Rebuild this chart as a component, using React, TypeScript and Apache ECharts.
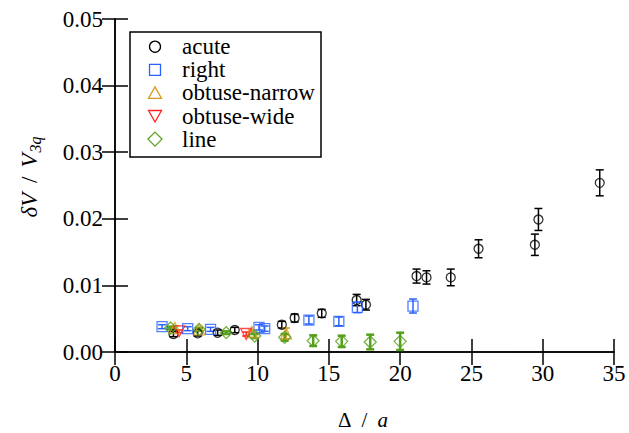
import React, { useEffect, useRef } from "react";
import * as echarts from "echarts";

const SERIF = "Liberation Serif";

const acuteX = [4.1, 5.8, 7.2, 8.4, 11.7, 12.6, 14.5, 16.95, 17.6, 21.15, 21.85, 23.55, 25.5, 29.45, 29.7, 34.0];
const acuteY = [0.0027, 0.0028, 0.0029, 0.0033, 0.0041, 0.0051, 0.0058, 0.0078, 0.0071, 0.0114, 0.0112, 0.0112, 0.0155, 0.0161, 0.0199, 0.0254];
const acuteErr = [0.0004, 0.0004, 0.0004, 0.0004, 0.0005, 0.0006, 0.0006, 0.00085, 0.0008, 0.00105, 0.001, 0.00125, 0.00135, 0.0016, 0.00165, 0.00195];

const rightX = [3.3, 5.1, 6.7, 10.1, 10.5, 13.6, 15.7, 17.0, 20.9];
const rightY = [0.0038, 0.0035, 0.0034, 0.0037, 0.0035, 0.0048, 0.0046, 0.0067, 0.0069];
const rightErr = [0.0003, 0.0003, 0.0003, 0.0004, 0.0004, 0.0006, 0.00065, 0.0008, 0.00105];

const narrowX = [4.2, 5.9, 9.6, 12.0];
const narrowY = [0.0036, 0.0034, 0.003, 0.0028];
const narrowErr = [0.0003, 0.0003, 0.0003, 0.0008];

const wideX = [4.5, 9.2];
const wideY = [0.0031, 0.0027];
const wideErr = [0.0002, 0.0003];

const lineX = [3.9, 5.9, 7.8, 9.8, 11.9, 13.9, 15.9, 17.9, 20.0];
const lineY = [0.0036, 0.0034, 0.0029, 0.0024, 0.0022, 0.0017, 0.0016, 0.0015, 0.0016];
const lineErr = [0.0002, 0.0002, 0.0002, 0.0003, 0.0005, 0.0008, 0.00085, 0.0011, 0.0013];

const xTickValues = [0, 5, 10, 15, 20, 25, 30, 35];
const xTickLabels = ["0", "5", "10", "15", "20", "25", "30", "35"];
const yTickValues = [0, 0.01, 0.02, 0.03, 0.04, 0.05];
const yTickLabels = ["0.00", "0.01", "0.02", "0.03", "0.04", "0.05"];

const xRange = { min: 0, max: 35, interval: 5 };
const yRange = { min: 0, max: 0.05, interval: 0.01 };

const groups = [
  { name: "acute", xs: acuteX, ys: acuteY, es: acuteErr, color: "#000000", symbol: "circle", size: 9, rotate: 0, lw: 1.5 },
  { name: "right", xs: rightX, ys: rightY, es: rightErr, color: "#2a62ff", symbol: "rect", size: 10, rotate: 0, lw: 1.5 },
  { name: "obtuse-narrow", xs: narrowX, ys: narrowY, es: narrowErr, color: "#d99a22", symbol: "triangle", size: 11, rotate: 0, lw: 1.5 },
  { name: "obtuse-wide", xs: wideX, ys: wideY, es: wideErr, color: "#ff2020", symbol: "triangle", size: 11, rotate: 180, lw: 1.5 },
  { name: "line", xs: lineX, ys: lineY, es: lineErr, color: "#55a01a", symbol: "diamond", size: 12, rotate: 0, lw: 2.5 },
];

function errRenderer(color: string, lw: number) {
  return (_params: any, api: any) => {
    const x = api.value(0);
    const y = api.value(1);
    const e = api.value(2);
    const top = api.coord([x, y + e]);
    const bot = api.coord([x, y - e]);
    const cap = 4;
    const style = { stroke: color, lineWidth: lw };
    return {
      type: "group",
      children: [
        { type: "line", shape: { x1: top[0], y1: top[1], x2: bot[0], y2: bot[1] }, style },
        { type: "line", shape: { x1: top[0] - cap, y1: top[1], x2: top[0] + cap, y2: top[1] }, style },
        { type: "line", shape: { x1: bot[0] - cap, y1: bot[1], x2: bot[0] + cap, y2: bot[1] }, style },
      ],
    };
  };
}

function legendIcon(symbol: string, rotate: number, cx: number, cy: number, color: string): any {
  const style = { fill: "none", stroke: color, lineWidth: 1.3 };
  if (symbol === "circle") return { type: "circle", shape: { cx, cy, r: 5.5 }, style };
  if (symbol === "rect") return { type: "rect", shape: { x: cx - 5.5, y: cy - 5.5, width: 11, height: 11 }, style };
  if (symbol === "diamond")
    return { type: "polygon", shape: { points: [[cx, cy - 7], [cx + 7, cy], [cx, cy + 7], [cx - 7, cy]] }, style };
  if (rotate === 180)
    return { type: "polygon", shape: { points: [[cx - 6.5, cy - 5.5], [cx + 6.5, cy - 5.5], [cx, cy + 6]] }, style };
  return { type: "polygon", shape: { points: [[cx - 6.5, cy + 5.5], [cx + 6.5, cy + 5.5], [cx, cy - 6]] }, style };
}

export default function App() {
  const ref = useRef<HTMLDivElement>(null);
  useEffect(() => {
    document.body.style.margin = "0";
    const chart = echarts.init(ref.current!, null, { renderer: "svg" });
    const axisLine = { show: true, lineStyle: { color: "#000", width: 1.5 } };
    const tick = { show: true, inside: true, length: 13, lineStyle: { color: "#000", width: 1.5 } };
    const series: any[] = [];
    groups.forEach((g) => {
      series.push({
        name: g.name + "-err",
        type: "custom",
        renderItem: errRenderer(g.color, g.lw),
        data: g.xs.map((x, i) => [x, g.ys[i], g.es[i]]),
        encode: { x: 0, y: 1 },
        z: 2,
        silent: true,
      });
    });
    groups.forEach((g) => {
      series.push({
        name: g.name,
        type: "scatter",
        symbol: g.symbol,
        symbolSize: g.size,
        symbolRotate: g.rotate,
        data: g.xs.map((x, i) => [x, g.ys[i]]),
        itemStyle: { color: "rgba(0,0,0,0)", borderColor: g.color, borderWidth: 1.3 },
        z: 3,
      });
    });
    chart.setOption({
      animation: false,
      grid: { left: 115, right: 15, top: 19, bottom: 81 },
      xAxis: [
        { type: "value", ...xRange, position: "bottom", axisLine, axisTick: tick, splitLine: { show: false }, axisLabel: { show: false } },
        { type: "value", ...xRange, position: "top", axisLine, axisTick: tick, splitLine: { show: false }, axisLabel: { show: false } },
      ],
      yAxis: [
        { type: "value", ...yRange, position: "left", axisLine, axisTick: tick, splitLine: { show: false }, axisLabel: { show: false } },
        { type: "value", ...yRange, position: "right", axisLine, axisTick: tick, splitLine: { show: false }, axisLabel: { show: false } },
      ],
      series,
    });

    const graphics: any[] = [];
    const tickFont = "23px " + SERIF;
    const x0 = chart.convertToPixel({ xAxisIndex: 0 }, 0) as number;
    const y0 = chart.convertToPixel({ yAxisIndex: 0 }, 0) as number;
    xTickValues.forEach((v, i) => {
      const px = chart.convertToPixel({ xAxisIndex: 0 }, v) as number;
      graphics.push({
        type: "text",
        x: px,
        y: y0 + 21,
        style: { text: xTickLabels[i], font: tickFont, fill: "#000", align: "center", verticalAlign: "middle" },
      });
    });
    yTickValues.forEach((v, i) => {
      const py = chart.convertToPixel({ yAxisIndex: 0 }, v) as number;
      graphics.push({
        type: "text",
        x: x0 - 12,
        y: py,
        style: { text: yTickLabels[i], font: tickFont, fill: "#000", align: "right", verticalAlign: "middle" },
      });
    });

    // x axis title: Δ / a
    const xnFont = "21px " + SERIF;
    const xnItal = "italic 21px " + SERIF;
    const xCenter = (x0 + (chart.convertToPixel({ xAxisIndex: 0 }, 35) as number)) / 2;
    const xnY = 420;
    graphics.push(
      { type: "text", x: xCenter - 13, y: xnY, style: { text: "Δ", font: xnFont, fill: "#000", align: "right", verticalAlign: "middle" } },
      { type: "text", x: xCenter, y: xnY, style: { text: "/", font: xnFont, fill: "#000", align: "center", verticalAlign: "middle" } },
      { type: "text", x: xCenter + 13, y: xnY, style: { text: "a", font: xnItal, fill: "#000", align: "left", verticalAlign: "middle" } }
    );

    // y axis title: δV / V_3q (rotated, reading upward)
    const mainI = "italic 23px " + SERIF;
    const mainN = "23px " + SERIF;
    const subI = "italic 16px " + SERIF;
    const w1 = 25.6;
    const w2 = 6.4;
    const w3 = 14.1;
    const w4 = 16;
    const gap = 9;
    const totalLen = w1 + w2 + w3 + w4 + 2 * gap;
    const startY = 177.5 + totalLen / 2;
    let off = 0;
    const kids: any[] = [];
    kids.push({ type: "text", x: off, y: 0, style: { text: "δV", font: mainI, fill: "#000", align: "left", verticalAlign: "middle" } });
    off += w1 + gap;
    kids.push({ type: "text", x: off, y: 0, style: { text: "/", font: mainN, fill: "#000", align: "left", verticalAlign: "middle" } });
    off += w2 + gap;
    kids.push({ type: "text", x: off, y: 0, style: { text: "V", font: mainI, fill: "#000", align: "left", verticalAlign: "middle" } });
    off += w3 + 1;
    kids.push({ type: "text", x: off, y: 6, style: { text: "3q", font: subI, fill: "#000", align: "left", verticalAlign: "middle" } });
    graphics.push({ type: "group", x: 29, y: startY, rotation: Math.PI / 2, children: kids });

    // legend
    const legLeft = 130;
    const legTop = 32;
    const legW = 191;
    const legH = 125;
    graphics.push({
      type: "rect",
      shape: { x: legLeft, y: legTop, width: legW, height: legH },
      style: { fill: "#fff", stroke: "#000", lineWidth: 1.5 },
      z: 10,
    });
    groups.forEach((g, i) => {
      const cy = legTop + 14.7 + i * 23.1;
      graphics.push({ ...legendIcon(g.symbol, g.rotate, 155, cy, g.color), z: 11 });
      graphics.push({
        type: "text",
        x: 182,
        y: cy,
        z: 11,
        style: { text: g.name, font: "23px " + SERIF, fill: "#000", align: "left", verticalAlign: "middle" },
      });
    });

    chart.setOption({ graphic: graphics });
    return () => chart.dispose();
  }, []);
  return <div ref={ref} style={{ width: 629, height: 433 }} />;
}
